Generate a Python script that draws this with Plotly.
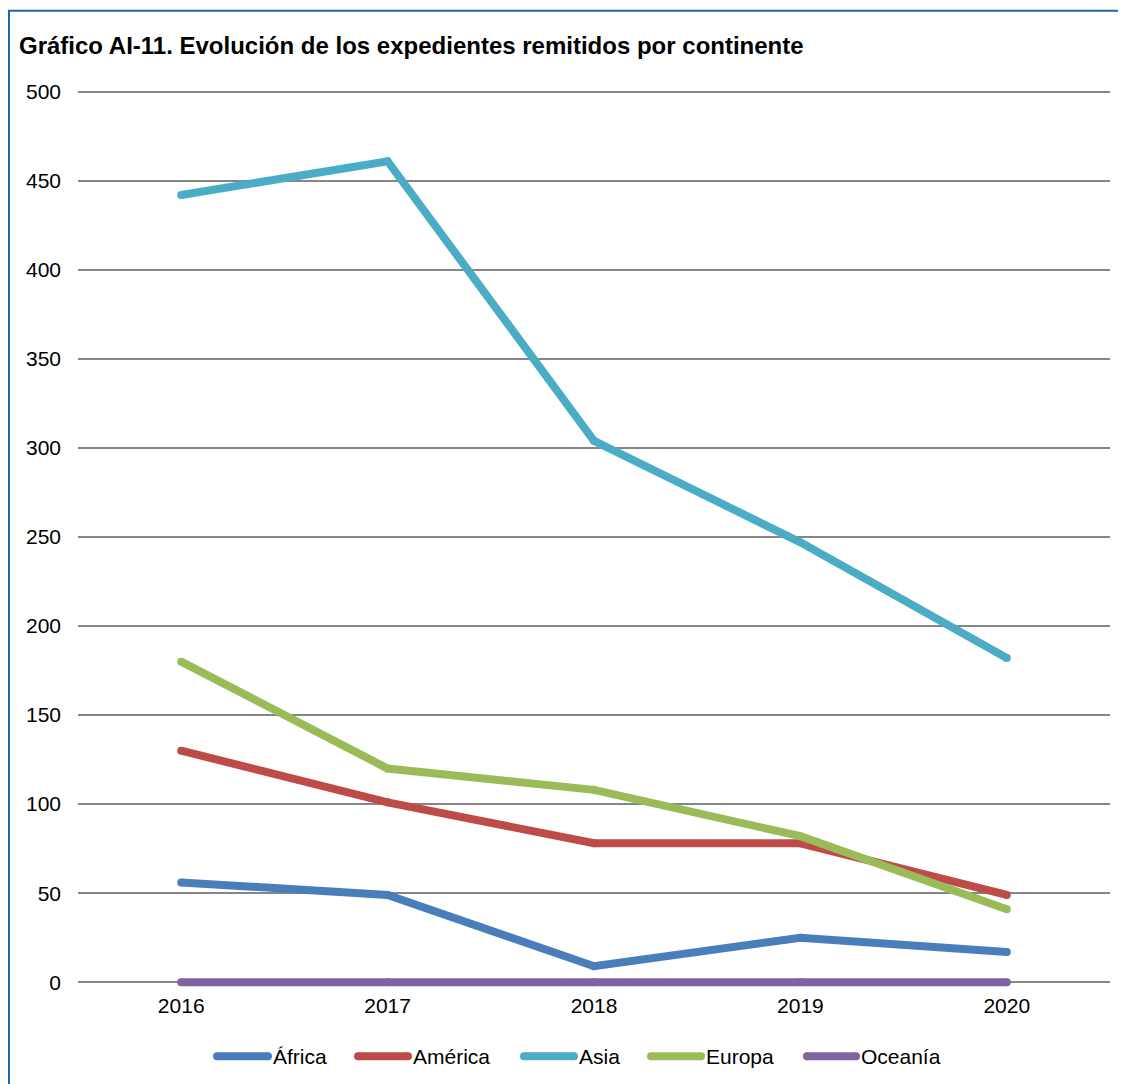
import plotly.graph_objects as go

years = ["2016", "2017", "2018", "2019", "2020"]
africa = [56, 49, 9, 25, 17]
america = [130, 101, 78, 78, 49]
asia = [442, 461, 304, 247, 182]
europa = [180, 120, 108, 82, 41]
oceania = [0, 0, 0, 0, 0]

series_names = ["África", "América", "Asia", "Europa", "Oceanía"]
series_values = [africa, america, asia, europa, oceania]
series_colors = ["#4A7EBB", "#BE4B48", "#4BACC6", "#9BBB59", "#7F64A0"]

title_text = "Gráfico AI-11. Evolución de los expedientes remitidos por continente"

# page layout (page pixels); the html body adds an 8px offset
OFF = 8
PAGE_W, PAGE_H = 1126, 1084
W, H = PAGE_W - OFF, PAGE_H - OFF
L, R_EDGE, TOP, ZERO_PX = 78 - OFF, 1110 - OFF, 92 - OFF, 982 - OFF
YMIN, YMAX = -10, 500
YTOP = 501
px_per_unit = (ZERO_PX - TOP) / YMAX
TOP_ADJ = TOP - (YTOP - YMAX) * px_per_unit
bottom_px = ZERO_PX + (0 - YMIN) * px_per_unit

fig = go.Figure()
for name, vals, col in zip(series_names, series_values, series_colors):
    fig.add_trace(go.Scatter(
        x=years, y=vals, name=name, mode="lines+markers",
        line=dict(color=col, width=8),
        marker=dict(color=col, size=8, line=dict(width=0)),
        cliponaxis=False, showlegend=False,
    ))

plot_w = R_EDGE - L
plot_h = bottom_px - TOP_ADJ


def px_x(p):
    return (p - OFF - L) / plot_w


def px_y(p):
    return (bottom_px - (p - OFF)) / plot_h


# outer frame (blue), partly off-canvas like the reference
fig.add_shape(type="rect", xref="paper", yref="paper",
              x0=px_x(OFF + 1), x1=px_x(1160), y0=px_y(1120), y1=px_y(11),
              line=dict(color="#1F66AA", width=2), fillcolor="rgba(0,0,0,0)", layer="below")

# manual legend (page pixel positions)
legend_line_x = [(213, 272), (354, 412), (520, 578), (647, 705), (803, 860)]
legend_y = 1056
for (xa, xb), name, col in zip(legend_line_x, series_names, series_colors):
    fig.add_shape(type="line", xref="paper", yref="paper",
                  x0=px_x(xa + 4), x1=px_x(xb - 4), y0=px_y(legend_y), y1=px_y(legend_y),
                  line=dict(color=col, width=8))
    for cx in (xa + 4, xb - 4):
        fig.add_shape(type="circle", xref="paper", yref="paper",
                      x0=px_x(cx - 4), x1=px_x(cx + 4), y0=px_y(legend_y + 4), y1=px_y(legend_y - 4),
                      line=dict(width=0), fillcolor=col)
    fig.add_annotation(text=name, xref="paper", yref="paper", x=px_x(xb - 1), y=px_y(legend_y),
                       xanchor="left", yanchor="middle", showarrow=False,
                       font=dict(size=21, color="#000000"))

fig.update_layout(
    width=W, height=H,
    margin=dict(l=L, r=W - R_EDGE, t=TOP_ADJ, b=H - bottom_px, pad=0),
    paper_bgcolor="white", plot_bgcolor="white",
    font=dict(family="Liberation Sans, Arial, sans-serif", size=21, color="#000000"),
    title=dict(text="<b>" + title_text + "</b>", xref="container", yref="container",
               x=(19 - OFF) / W, y=1 - (46 - OFF) / H, xanchor="left", yanchor="middle",
               font=dict(size=24, color="#000000")),
    showlegend=False,
    xaxis=dict(type="category", range=[-0.5, 4.5], showgrid=False, showline=False,
               zeroline=False, ticks="", anchor="free",
               position=(0 - YMIN) / (YTOP - YMIN), ticklabelstandoff=9,
               tickfont=dict(size=21)),
    yaxis=dict(range=[YMIN, YTOP], tick0=0, dtick=50, showgrid=True,
               gridcolor="#868686", gridwidth=2, zeroline=False, showline=False,
               ticks="", ticklabelstandoff=16, tickfont=dict(size=21)),
)

fig.write_html("out.html")
